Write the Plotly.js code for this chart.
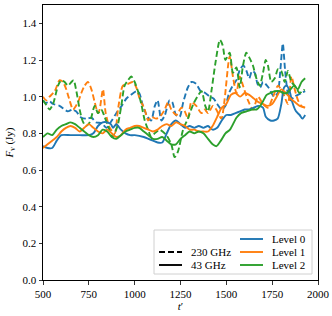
<!DOCTYPE html>
<html><head><meta charset="utf-8">
<script src="https://cdn.plot.ly/plotly-3.0.1.min.js"></script>
<style>html,body{margin:0;padding:0;background:#fff}#chart{width:332px;height:316px}</style>
</head><body><div id="chart"></div>
<script>
// 43 GHz, Level 0
const t_l0_43 = [500,525,550,575,600,650,700,750,775,800,825,850,870,882,900,925,950,975,1000,1050,1075,1100,1125,1150,1175,1200,1225,1250,1275,1300,1325,1350,1375,1400,1425,1450,1475,1500,1525,1550,1575,1600,1625,1650,1675,1700,1715,1740,1760,1780,1800,1815,1830,1845,1860,1880,1900,1915,1930];
const f_l0_43 = [0.73,0.72,0.72,0.76,0.79,0.79,0.79,0.79,0.80,0.84,0.86,0.86,0.85,0.83,0.85,0.82,0.80,0.79,0.79,0.78,0.77,0.76,0.75,0.75,0.80,0.85,0.87,0.85,0.83,0.84,0.83,0.84,0.83,0.84,0.82,0.83,0.87,0.90,0.90,0.91,0.92,0.93,0.93,0.94,0.95,0.94,0.89,0.87,0.87,0.88,0.96,1.05,1.06,1.03,0.97,0.92,0.90,0.88,0.90];
// 43 GHz, Level 1
const t_l1_43 = [500,525,550,575,600,625,650,675,700,725,750,775,800,825,850,875,900,925,950,975,1000,1025,1050,1075,1100,1125,1150,1175,1200,1225,1250,1275,1300,1325,1350,1375,1400,1425,1450,1475,1500,1525,1550,1575,1600,1625,1650,1675,1700,1725,1750,1775,1800,1825,1850,1875,1900,1930];
const f_l1_43 = [0.72,0.74,0.76,0.78,0.81,0.83,0.84,0.83,0.81,0.83,0.85,0.83,0.81,0.80,0.82,0.80,0.78,0.79,0.82,0.83,0.84,0.84,0.83,0.82,0.81,0.82,0.84,0.85,0.84,0.86,0.85,0.84,0.82,0.82,0.81,0.81,0.81,0.84,0.89,0.94,0.96,1.01,1.02,1.00,1.02,1.01,0.99,0.97,0.96,0.95,0.96,1.00,1.04,1.02,0.99,0.97,0.95,0.94];
// 43 GHz, Level 2
const t_l2_43 = [500,525,550,575,600,625,650,675,700,725,750,775,800,825,850,875,900,925,950,975,1000,1025,1050,1075,1100,1125,1150,1175,1200,1225,1250,1275,1300,1325,1350,1375,1400,1425,1446,1470,1495,1520,1555,1580,1610,1640,1665,1685,1700,1720,1740,1765,1790,1810,1830,1850,1870,1890,1910,1930];
const f_l2_43 = [0.78,0.80,0.79,0.82,0.84,0.85,0.86,0.85,0.83,0.81,0.79,0.78,0.79,0.82,0.81,0.78,0.77,0.79,0.81,0.82,0.83,0.83,0.81,0.79,0.77,0.77,0.78,0.76,0.74,0.74,0.77,0.79,0.81,0.80,0.81,0.80,0.77,0.74,0.73,0.76,0.80,0.82,0.885,0.91,0.92,0.93,0.93,0.95,0.975,1.01,1.02,1.03,1.03,1.02,1.02,1.04,1.06,1.04,1.08,1.10];
// 230 GHz, Level 0
const t_l0_230 = [500,515,535,555,590,635,660,680,710,740,765,790,820,846,875,900,930,955,980,1009,1025,1045,1070,1090,1110,1125,1146,1165,1190,1205,1225,1245,1265,1290,1310,1335,1360,1385,1410,1430,1450,1475,1495,1515,1535,1555,1575,1593,1610,1625,1640,1655,1670,1685,1700,1730,1760,1780,1795,1808,1820,1835,1850,1870,1890,1910,1930];
const f_l0_230 = [0.98,0.965,0.975,0.96,0.95,0.92,0.93,0.92,0.885,0.88,0.885,0.86,0.855,0.83,0.87,0.91,0.95,0.99,1.01,1.03,1.02,0.95,0.89,0.87,0.95,0.98,0.87,0.90,0.98,0.97,0.90,0.89,0.97,1.05,1.08,1.07,1.03,1.02,1.00,0.99,0.96,0.93,0.95,1.02,1.06,1.09,1.15,1.17,1.14,1.10,1.14,1.13,1.07,1.05,1.08,1.05,1.00,1.02,1.15,1.29,1.15,1.02,0.98,1.00,1.01,1.02,1.03];
// 230 GHz, Level 1
const t_l1_230 = [500,518,536,564,591,609,627,645,664,691,709,727,745,764,782,800,809,827,842,864,891,909,936,964,991,1009,1027,1055,1073,1091,1118,1145,1164,1182,1200,1227,1255,1273,1291,1309,1336,1364,1382,1400,1427,1445,1473,1490,1518,1536,1555,1573,1591,1618,1645,1673,1700,1727,1755,1782,1809,1836,1855,1873,1891,1909,1927];
const f_l1_230 = [1.00,0.98,1.00,1.03,1.09,1.08,1.04,0.98,0.93,0.97,1.02,1.06,1.08,1.04,0.97,0.91,0.93,1.04,0.91,0.83,0.80,0.93,1.06,1.07,1.08,1.05,0.99,0.93,0.87,0.89,0.88,0.90,0.93,0.97,0.93,0.90,0.94,0.92,0.88,0.97,0.95,0.91,0.93,0.91,0.95,0.93,0.88,0.98,1.22,1.11,1.02,1.11,1.06,0.98,0.93,1.00,0.96,0.94,1.00,1.06,1.02,0.96,1.11,1.04,0.98,0.95,0.94];
// 230 GHz, Level 2
const t_l2_230 = [500,518,536,555,582,600,618,636,655,667,682,700,715,733,755,782,800,818,836,855,878,891,909,927,945,964,982,1000,1018,1036,1055,1073,1091,1109,1136,1173,1200,1218,1236,1264,1290,1320,1348,1365,1385,1400,1420,1440,1465,1480,1495,1518,1536,1555,1573,1591,1609,1627,1645,1664,1682,1700,1715,1727,1745,1764,1782,1800,1818,1836,1855,1873,1900,1927];
const f_l2_230 = [0.98,0.955,0.93,0.96,1.06,1.09,1.08,1.06,1.08,1.09,1.03,0.93,0.87,0.84,0.86,0.95,0.91,0.93,0.89,0.84,0.78,0.80,0.85,0.95,1.06,1.09,1.11,1.08,1.03,0.96,0.87,0.82,0.78,0.80,0.82,0.79,0.74,0.67,0.70,0.82,0.88,0.96,1.01,1.03,0.95,0.92,1.04,1.18,1.31,1.28,1.20,1.24,1.13,1.16,1.05,1.17,1.24,1.21,1.17,1.10,1.06,1.13,1.20,1.17,1.08,1.10,1.15,1.14,1.08,1.14,1.08,1.06,1.02,1.04];

const levelNames = ["Level 0","Level 1","Level 2"];
const freqNames = ["230 GHz","43 GHz"];
const colors = ["#1f77b4","#ff7f0e","#2ca02c"];
const xTicks = [500,750,1000,1250,1500,1750,2000];
const yTicks = [0.0,0.2,0.4,0.6,0.8,1.0,1.2,1.4];

const DASH = "6px,3px";
const LW = 1.9;
const series = [
  [t_l0_230,f_l0_230,0,DASH],[t_l1_230,f_l1_230,1,DASH],[t_l2_230,f_l2_230,2,DASH],
  [t_l0_43,f_l0_43,0,"solid"],[t_l1_43,f_l1_43,1,"solid"],[t_l2_43,f_l2_43,2,"solid"]
];
const traces = series.map(s => ({
  x: s[0], y: s[1], type: "scatter", mode: "lines", showlegend: false, hoverinfo: "skip",
  line: {color: colors[s[2]], width: LW, dash: s[3], shape: "spline", smoothing: 0.7}
}));

const FONT = "Liberation Serif, DejaVu Serif, serif";
// plot area: px 43..318, py 5..280
const L = 43, R = 318, T = 5, B = 280, W = R - L, H = B - T;
const px = v => (v - L) / W, py = v => (B - v) / H;

const shapes = [{
  type: "rect", xref: "paper", yref: "paper", x0: px(154), x1: px(312), y0: py(274), y1: py(230),
  line: {color: "#d0d0d0", width: 1}, fillcolor: "rgba(255,255,255,0.8)", layer: "above"
}];
const annotations = [];
const rowsY = [239, 252, 265];
levelNames.forEach((n, i) => {
  shapes.push({type: "line", xref: "paper", yref: "paper", x0: px(240), x1: px(263), y0: py(rowsY[i]), y1: py(rowsY[i]),
    line: {color: colors[i], width: LW}, layer: "above"});
  annotations.push({xref: "paper", yref: "paper", x: px(270), y: py(rowsY[i]), xanchor: "left", yanchor: "middle",
    text: n, showarrow: false, font: {family: FONT, size: 11, color: "#000"}});
});
freqNames.forEach((n, i) => {
  shapes.push({type: "line", xref: "paper", yref: "paper", x0: px(159), x1: px(182), y0: py(rowsY[i+1]), y1: py(rowsY[i+1]),
    line: {color: "#000", width: LW, dash: i === 0 ? DASH : "solid"}, layer: "above"});
  annotations.push({xref: "paper", yref: "paper", x: px(189), y: py(rowsY[i+1]), xanchor: "left", yanchor: "middle",
    text: n, showarrow: false, font: {family: FONT, size: 11, color: "#000"}});
});

const layout = {
  width: 332, height: 316,
  margin: {l: L, r: 332 - R, t: T, b: 316 - B, pad: 0},
  paper_bgcolor: "#fff", plot_bgcolor: "#fff",
  font: {family: FONT, size: 11, color: "#000"},
  xaxis: {range: [500, 2000], tickvals: xTicks, ticktext: xTicks.map(String), ticks: "outside", ticklen: 3.5,
    tickwidth: 0.8, tickcolor: "#000", showline: true, linecolor: "#000", linewidth: 1, mirror: true,
    showgrid: false, zeroline: false, automargin: false,
    title: {text: "<i>t</i>′", font: {family: FONT, size: 11}, standoff: 2}},
  yaxis: {range: [0, 1.5], tickvals: yTicks, ticktext: yTicks.map(v => v.toFixed(1)), ticks: "outside", ticklen: 3.5,
    tickwidth: 0.8, tickcolor: "#000", showline: true, linecolor: "#000", linewidth: 1, mirror: true,
    showgrid: false, zeroline: false, automargin: false,
    title: {text: "<i>F</i><sub>ν</sub> (Jy)", font: {family: FONT, size: 11}, standoff: 6}},
  shapes: shapes, annotations: annotations, showlegend: false
};
Plotly.newPlot("chart", traces, layout, {staticPlot: true, displayModeBar: false});
</script></body></html>
